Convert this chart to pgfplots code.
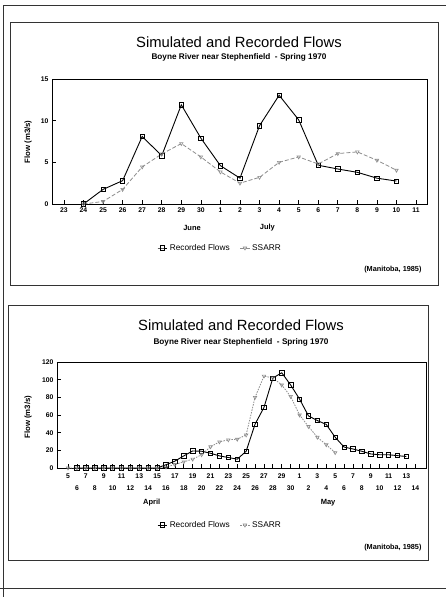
\documentclass[border=0pt]{standalone}
\usepackage{fontspec}
\setmainfont{Liberation Sans}
\usepackage{pgfplots}
\pgfplotsset{compat=1.18}
\definecolor{ssarr}{gray}{0.55}
\definecolor{frame}{gray}{0.2}

\pgfplotsset{
  panel/.style={
    scale only axis, anchor=south west, clip=false,
    axis line style={line width=0.8pt},
    tick pos=left, tick align=inside, major tick length=4pt,
    every tick/.style={line width=0.7pt, black},
    /pgf/number format/assume math mode=true,
    tick label style={font=\fontsize{6.8}{8}\selectfont\bfseries},
    ymin=0,
    ylabel={Flow (m3/s)},
    ylabel style={font=\fontsize{7.8}{9}\selectfont\bfseries, anchor=center},
    legend columns=2,
    legend style={draw=none, fill=none, font=\fontsize{8.3}{10}\selectfont,
      /tikz/every even column/.append style={column sep=8pt}},
    legend image code/.code={
      \draw[mark repeat=2,mark phase=2,##1] plot coordinates {(0cm,0cm) (0.17cm,0cm) (0.34cm,0cm)};},
  },
  rec/.style={black, line width=0.9pt, mark=square, mark size=2.2pt,
    mark options={solid, fill=white, line width=0.7pt}},
  ssa/.style={ssarr, line width=0.8pt, mark=triangle, mark size=2pt,
    mark options={solid, rotate=180, fill=white, line width=0.6pt}},
}

\begin{document}
\begin{tikzpicture}
\useasboundingbox (0,0) rectangle (446pt,597pt);
% page frame
\draw[frame, line width=0.8pt] (3pt,0pt) -- (3pt,592pt) -- (446pt,592pt);
\draw[frame, line width=0.8pt] (0pt,9pt) -- (446pt,9pt);
% panel boxes
\draw[frame, line width=0.9pt] (10pt,312pt) rectangle (438pt,575pt);
\draw[frame, line width=0.9pt] (8pt,37pt) rectangle (428pt,292pt);

% ---------- Panel 1 ----------
\node[font=\fontsize{14.8}{16}\selectfont] at (239pt,555pt) {Simulated and Recorded Flows};
\node[font=\fontsize{8.2}{9}\selectfont\bfseries] at (239pt,540pt) {Boyne River near Stephenfield\ \ - Spring 1970};
\node[font=\fontsize{7.3}{9}\selectfont\bfseries, anchor=east] at (425pt,327pt) {(Manitoba, 1985)};

\begin{axis}[panel,
  at={(52pt,393pt)}, width=375pt, height=125pt,
  xmin=-0.61, xmax=18.56, ymax=15, ytick={0,5,10,15},
  xtick={0,...,18},
  xticklabels={23,24,25,26,27,28,29,30,1,2,3,4,5,6,7,8,9,10,11},
  ylabel style={at={(axis description cs:-0.064,0.496)}},
  legend style={at={(axis description cs:0.448,-0.352)}, anchor=center},
]
\addplot[rec] coordinates {
(1,0) (2,1.75) (3,2.8) (4,8.1) (5,5.8) (6,11.9) (7,7.9) (8,4.6) (9,3.1)
(10,9.4) (11,13.05) (12,10.1) (13,4.65) (14,4.2) (15,3.8) (16,3.1) (17,2.75)};
\addlegendentry{Recorded Flows}
\addplot[ssa, dash pattern=on 4pt off 2pt] coordinates {
(1,0) (2,0.3) (3,1.75) (4,4.45) (5,6.0) (6,7.25) (7,5.65) (8,3.85) (9,2.5)
(10,3.2) (11,5.0) (12,5.65) (13,4.8) (14,6.05) (15,6.25) (16,5.25) (17,4.05)};
\addlegendentry{SSARR}
\node[font=\fontsize{7.5}{9}\selectfont\bfseries] at (axis cs:6.55,0) [yshift=-24pt] {June};
\node[font=\fontsize{7.5}{9}\selectfont\bfseries] at (axis cs:10.4,0) [yshift=-24pt] {July};
\end{axis}

% ---------- Panel 2 ----------
\node[font=\fontsize{14.8}{16}\selectfont] at (241pt,272pt) {Simulated and Recorded Flows};
\node[font=\fontsize{8.2}{9}\selectfont\bfseries] at (241pt,255pt) {Boyne River near Stephenfield\ \ - Spring 1970};
\node[font=\fontsize{7.3}{9}\selectfont\bfseries, anchor=east] at (425pt,49pt) {(Manitoba, 1985)};

\begin{axis}[panel,
  at={(57pt,129pt)}, width=369pt, height=106pt,
  xmin=-1.24, xmax=40.2, ymax=120, ytick={0,20,...,120},
  xtick={0,2,...,38},
  xticklabels={5,7,9,11,13,15,17,19,21,23,25,27,29,1,3,5,7,9,11,13},
  extra x ticks={1,3,...,39},
  extra x tick labels={6,8,10,12,14,16,18,20,22,24,26,28,30,2,4,6,8,10,12,14},
  xticklabel style={yshift=-2pt},
  extra x tick style={xticklabel style={yshift=-12pt}},
  ylabel style={at={(axis description cs:-0.0786,0.48)}},
  legend style={at={(axis description cs:0.4417,-0.538)}, anchor=center},
]
\addplot[black, line width=0.9pt, forget plot] coordinates {(0,0) (1,0)};
\addplot[rec] coordinates {
(1,0) (2,0) (3,0) (4,0) (5,0) (6,0) (7,0) (8,0) (9,0) (10,0)
(11,3.7) (12,7.8) (13,13.7) (14,19.3) (15,19) (16,16.7) (17,13.7) (18,11.9) (19,10)
(20,18.9) (21,49.6) (22,68.5) (23,101.8) (24,107.8) (25,94) (26,78) (27,59)
(28,53.7) (29,49.3) (30,34.8) (31,23.7) (32,21.5) (33,18.9) (34,15.9) (35,15)
(36,15) (37,14) (38,13)};
\addlegendentry{Recorded Flows}
\addplot[ssa, dash pattern=on 1.5pt off 1.2pt] coordinates {
(0,0) (1,0) (2,0) (3,0) (4,0) (5,0) (6,0) (7,0) (8,0) (9,0) (10,0)
(11,1) (12,4) (13,7) (14,10) (15,15) (16,24) (17,29.6) (18,31.9) (19,32.6)
(20,37.4) (21,80) (22,104) (23,102) (24,94) (25,81) (26,60) (27,47) (28,34.8)
(29,26.3) (30,17.4)};
\addlegendentry{SSARR}
\node[font=\fontsize{7.5}{9}\selectfont\bfseries] at (axis cs:9.4,0) [yshift=-35pt] {April};
\node[font=\fontsize{7.5}{9}\selectfont\bfseries] at (axis cs:29.2,0) [yshift=-35pt] {May};
\end{axis}
\end{tikzpicture}
\end{document}
